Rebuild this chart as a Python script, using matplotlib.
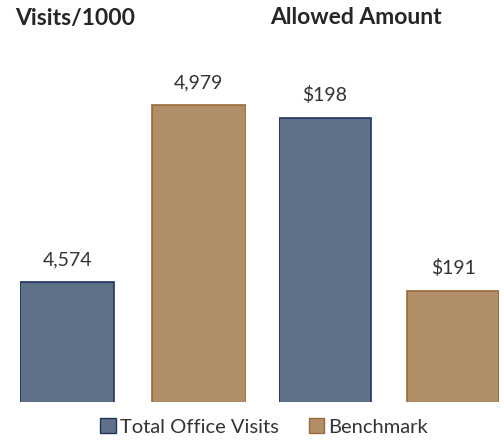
import matplotlib.pyplot as plt
from matplotlib.patches import Patch

plt.rcParams["font.family"] = ["Lato", "DejaVu Sans"]

series = ["Total Office Visits", "Benchmark"]
visits = [4574, 4979]
allowed = [198, 191]
visit_labels = ["4,574", "4,979"]
allowed_labels = ["$198", "$191"]
titles = ["Visits/1000", "Allowed Amount"]

FILL = ["#5f7089", "#b08f68"]
EDGE = ["#1f3560", "#9a6a38"]
W = 0.716

fig = plt.figure(figsize=(5.04, 4.42), dpi=100)
fw, fh = 504, 442


def px_axes(x0, x1, y0, y1):
    return fig.add_axes([x0 / fw, 1 - y1 / fh, (x1 - x0) / fw, (y1 - y0) / fh])


def draw(ax, vals, labels, ylim):
    xs = range(len(vals))
    ax.bar(xs, vals, width=W, color=FILL, edgecolor=EDGE, linewidth=1.2)
    ax.set_xlim(-W / 2, len(vals) - 1 + W / 2)
    ax.set_ylim(*ylim)
    span = ylim[1] - ylim[0]
    for x, v, lab in zip(xs, vals, labels):
        ax.text(x, v + span * 0.04, lab, ha="center", va="bottom",
                fontsize=14, color="#333333")
    ax.axis("off")


ax1 = px_axes(20, 246, 60, 402)
draw(ax1, visits, visit_labels, (4300, 5081))
ax2 = px_axes(279, 499, 60, 402)
draw(ax2, allowed, allowed_labels, (186.5, 200.35))

fig.text(15 / fw, 1 - 18 / fh, titles[0], ha="left", va="center",
         fontsize=16.5, fontweight="bold", color="#262626")
fig.text(270 / fw, 1 - 18 / fh, titles[1], ha="left", va="center",
         fontsize=16.5, fontweight="bold", color="#262626")

handles = [Patch(facecolor=FILL[i], edgecolor=EDGE[i], label=series[i])
           for i in range(2)]
fig.legend(handles=handles, loc="center", bbox_to_anchor=(264 / fw, 1 - 427 / fh),
           ncol=2, frameon=False, fontsize=14.5, handlelength=0.75,
           handleheight=0.75, handletextpad=0.2, columnspacing=1.5,
           labelcolor="#333333")

fig.savefig("out.png", dpi=100)
